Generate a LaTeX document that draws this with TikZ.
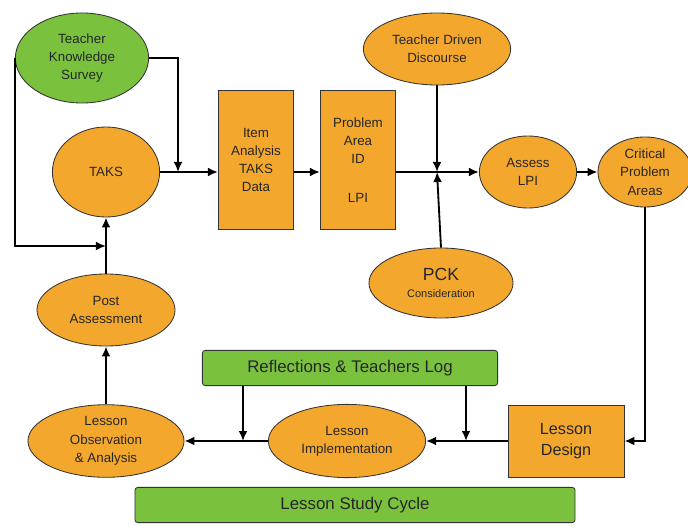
\documentclass[tikz,border=0pt]{standalone}
\usepackage{fontspec}
\setmainfont{Liberation Sans}
\usetikzlibrary{shapes.geometric,arrows.meta}
\definecolor{lsorange}{RGB}{243,168,45}
\definecolor{lsgreen}{RGB}{122,194,62}
\begin{document}
\begin{tikzpicture}[x=0.025cm,y=-0.025cm,font=\fontsize{9.5}{13}\selectfont,
    every node/.style={draw=black!80,line width=0.6pt,align=center,text=black!85,inner sep=1pt},
    oval/.style={ellipse,fill=lsorange},
    box/.style={rectangle,fill=lsorange},
    gbox/.style={rectangle,rounded corners=2pt,fill=lsgreen,font=\fontsize{12}{14}\selectfont},
    arr/.style={-{Latex[length=2.5mm,width=2.2mm]},line width=1.3pt}]
  \useasboundingbox (0,0) rectangle (688,525);
  \node[ellipse,fill=lsgreen,minimum width=3.33cm,minimum height=2.25cm] (tks) at (82,58) {Teacher\\Knowledge\\Survey};
  \node[oval,minimum width=2.68cm,minimum height=2.25cm] (taks) at (106,172) {TAKS};
  \node[box,minimum width=1.88cm,minimum height=3.48cm] (item) at (256,160) {Item\\Analysis\\TAKS\\Data};
  \node[box,minimum width=1.88cm,minimum height=3.48cm] (prob) at (358,160) {Problem\\Area\\ID\\[1.5em]LPI};
  \node[oval,minimum width=3.68cm,minimum height=1.8cm] (tdd) at (437,49) {Teacher Driven\\Discourse};
  \node[oval,minimum width=2.43cm,minimum height=1.8cm] (assess) at (528,172) {Assess\\LPI};
  \node[oval,minimum width=2.35cm,minimum height=1.75cm] (crit) at (645,172) {Critical\\Problem\\Areas};
  \node[oval,minimum width=3.6cm,minimum height=1.75cm] (pck) at (441,283) {{\fontsize{12.5}{14}\selectfont PCK}\\[-1pt]{\fontsize{7.8}{9}\selectfont Consideration}};
  \node[oval,minimum width=3.45cm,minimum height=1.8cm] (post) at (106,310) {Post\\Assessment};
  \node[gbox,minimum width=7.38cm,minimum height=0.88cm] (refl) at (350,368) {Reflections \& Teachers Log};
  \node[oval,minimum width=3.9cm,minimum height=1.8cm] (obs) at (106,441) {Lesson\\Observation\\\& Analysis};
  \node[oval,minimum width=3.93cm,minimum height=1.83cm] (impl) at (347,441) {Lesson\\Implementation};
  \node[box,minimum width=2.9cm,minimum height=1.8cm,font=\fontsize{11.5}{15}\selectfont] (design) at (566,441) {Lesson\\Design};
  \node[gbox,minimum width=11cm,minimum height=0.88cm] (cycle) at (355,505) {Lesson Study Cycle};
  \coordinate (j1) at (178,172);
  \coordinate (j2) at (437,172);
  \coordinate (k) at (106,246);
  \draw[arr] (taks.east) -- (taks.east -| item.west);
  \draw[arr] (tks.east) -| (j1);
  \draw[arr] (tks.west) |- (k);
  \draw[arr] (post.north) -- (taks.south);
  \draw[arr] (obs.north) -- (post.south);
  \draw[arr] (item.east |- j2) -- (prob.west |- j2);
  \draw[arr] (prob.east |- j2) -- (assess.west);
  \draw[arr] (tdd.south) -- (j2);
  \draw[arr] (pck.north) -- (j2);
  \draw[arr] (assess.east) -- (crit.west);
  \draw[arr] (crit.south) |- (design.east);
  \draw[arr] (design.west) -- (impl.east);
  \draw[arr] (impl.west) -- (obs.east);
  \foreach \x/\r in {243/r1,466/r2} {
    \coordinate (\r) at (\x,441);
    \draw[arr] (refl.south -| \r) -- (\r);
  }
\end{tikzpicture}
\end{document}
